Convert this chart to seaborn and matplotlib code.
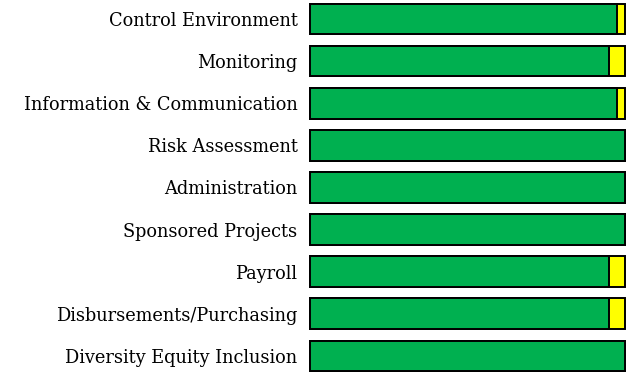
import matplotlib
matplotlib.use("Agg")
import matplotlib.pyplot as plt
import seaborn as sns
import pandas as pd

categories = [
    "Control Environment",
    "Monitoring",
    "Information & Communication",
    "Risk Assessment",
    "Administration",
    "Sponsored Projects",
    "Payroll",
    "Disbursements/Purchasing",
    "Diversity Equity Inclusion",
]
green_pct = [97.4, 95.0, 97.4, 100.0, 100.0, 100.0, 95.0, 95.0, 100.0]
yellow_pct = [2.6, 5.0, 2.6, 0.0, 0.0, 0.0, 5.0, 5.0, 0.0]

df = pd.DataFrame({"category": categories, "green": green_pct, "yellow": yellow_pct})
df["total"] = df["green"] + df["yellow"]

sns.set_theme(style="white")
plt.rcParams["font.family"] = ["DejaVu Serif"]

fig = plt.figure(figsize=(6.33, 3.74), dpi=100)
ax = fig.add_axes([310 / 633, 0.0, 315 / 633, 1.0])

# stacked: full-length yellow underneath, green on top
sns.barplot(data=df, y="category", x="total", color="#FFFF00", orient="h",
            width=0.73, edgecolor="black", linewidth=1.4, saturation=1, ax=ax)
sns.barplot(data=df, y="category", x="green", color="#00B050", orient="h",
            width=0.73, edgecolor="black", linewidth=1.4, saturation=1, ax=ax)
for p in ax.patches:
    p.set_clip_on(False)

ax.set_xlim(0, 100)
ax.set_ylim(8.43, -0.45)
ax.set_xlabel("")
ax.set_ylabel("")
ax.set_xticks([])
ax.tick_params(axis="y", length=0, pad=9, labelsize=12.8, labelcolor="black")
for s in ax.spines.values():
    s.set_visible(False)

fig.savefig("out.png", dpi=100)
